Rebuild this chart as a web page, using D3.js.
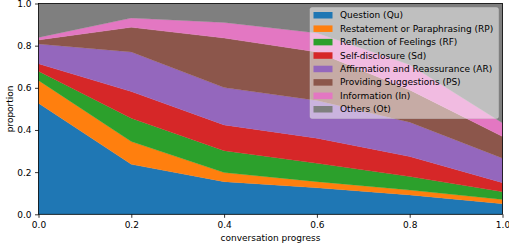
<!DOCTYPE html>
<html>
<head>
<meta charset="utf-8">
<script src="https://cdn.jsdelivr.net/npm/d3@7"></script>
<style>
  html, body { margin: 0; padding: 0; background: #ffffff; }
  svg { display: block; }
  text { font-family: "DejaVu Sans", sans-serif; fill: #000; }
</style>
</head>
<body>
<svg id="chart" width="509" height="248"></svg>
<script>
// ---- data ----
const progress = [0.0, 0.2, 0.4, 0.6, 0.8, 1.0];
const categories = [
  "Question (Qu)",
  "Restatement or Paraphrasing (RP)",
  "Reflection of Feelings (RF)",
  "Self-disclosure (Sd)",
  "Affirmation and Reassurance (AR)",
  "Providing Suggestions (PS)",
  "Information (In)",
  "Others (Ot)"
];
const Qu = [0.527, 0.237, 0.155, 0.126, 0.092, 0.050];
const RP = [0.108, 0.108, 0.043, 0.029, 0.023, 0.020];
const RF = [0.044, 0.111, 0.104, 0.087, 0.064, 0.037];
const Sd = [0.035, 0.126, 0.122, 0.119, 0.095, 0.043];
const AR = [0.094, 0.188, 0.177, 0.179, 0.163, 0.116];
const PS = [0.019, 0.117, 0.235, 0.230, 0.153, 0.103];
const In = [0.012, 0.044, 0.074, 0.090, 0.120, 0.064];
const Ot = [0.161, 0.069, 0.090, 0.140, 0.290, 0.567];
const xTicks = [0.0, 0.2, 0.4, 0.6, 0.8, 1.0];
const yTicks = [0.0, 0.2, 0.4, 0.6, 0.8, 1.0];
const colors = ["#1f77b4", "#ff7f0e", "#2ca02c", "#d62728", "#9467bd", "#8c564b", "#e377c2", "#7f7f7f"];

const seriesList = [Qu, RP, RF, Sd, AR, PS, In, Ot];
const rows = progress.map((p, i) => {
  const r = { p };
  categories.forEach((c, k) => { r[c] = seriesList[k][i]; });
  return r;
});

// ---- layout ----
const svg = d3.select("#chart");
const mLeft = 38.5, mRight = 502.5, mTop = 3.5, mBottom = 214.3;

const x = d3.scaleLinear().domain([0, 1]).range([mLeft, mRight]);
const y = d3.scaleLinear().domain([0, 1]).range([mBottom, mTop]);

const stack = d3.stack().keys(categories);
const layers = stack(rows);

const area = d3.area()
  .x(d => x(d.data.p))
  .y0(d => y(d[0]))
  .y1(d => y(d[1]));

svg.append("g").selectAll("path")
  .data(layers)
  .join("path")
  .attr("d", area)
  .attr("fill", (d, i) => colors[i])
  .attr("stroke", (d, i) => colors[i])
  .attr("stroke-width", 0.3);

// axes
const fmt = d3.format(".1f");
const xAxis = svg.append("g").attr("transform", `translate(0,${mBottom})`)
  .call(d3.axisBottom(x).tickValues(xTicks).tickFormat(fmt).tickSizeOuter(0).tickSize(3.5).tickPadding(3.5));
const yAxis = svg.append("g").attr("transform", `translate(${mLeft},0)`)
  .call(d3.axisLeft(y).tickValues(yTicks).tickFormat(fmt).tickSizeOuter(0).tickSize(3.5).tickPadding(3.5));
[xAxis, yAxis].forEach(g => {
  g.select(".domain").remove();
  g.selectAll("text").attr("font-family", "DejaVu Sans").attr("font-size", 9).attr("fill", "#000");
  g.selectAll("line").attr("stroke", "#000").attr("stroke-width", 0.8);
});

// spines
svg.append("rect")
  .attr("x", mLeft).attr("y", mTop)
  .attr("width", mRight - mLeft).attr("height", mBottom - mTop)
  .attr("fill", "none").attr("stroke", "#000").attr("stroke-width", 0.8);

// axis labels
svg.append("text")
  .attr("x", (mLeft + mRight) / 2).attr("y", 241)
  .attr("text-anchor", "middle").attr("font-size", 9)
  .text("conversation progress");
svg.append("text")
  .attr("transform", `translate(13,${(mTop + mBottom) / 2}) rotate(-90)`)
  .attr("text-anchor", "middle").attr("font-size", 9)
  .text("proportion");

// legend
const lg = svg.append("g");
lg.append("rect")
  .attr("x", 310).attr("y", 7.5).attr("width", 188.5).attr("height", 111)
  .attr("rx", 2).attr("ry", 2)
  .attr("fill", "#ffffff").attr("fill-opacity", 0.5)
  .attr("stroke", "#cccccc").attr("stroke-opacity", 0.5).attr("stroke-width", 0.8);
const rowY = d3.scaleLinear().domain([0, categories.length - 1]).range([15, 109]);
categories.forEach((c, i) => {
  lg.append("rect")
    .attr("x", 313.5).attr("y", rowY(i) - 3).attr("width", 19).attr("height", 6.5)
    .attr("fill", colors[i]);
  lg.append("text")
    .attr("x", 340).attr("y", rowY(i))
    .attr("dy", "0.36em")
    .attr("font-size", 9)
    .text(c);
});
</script>
</body>
</html>
